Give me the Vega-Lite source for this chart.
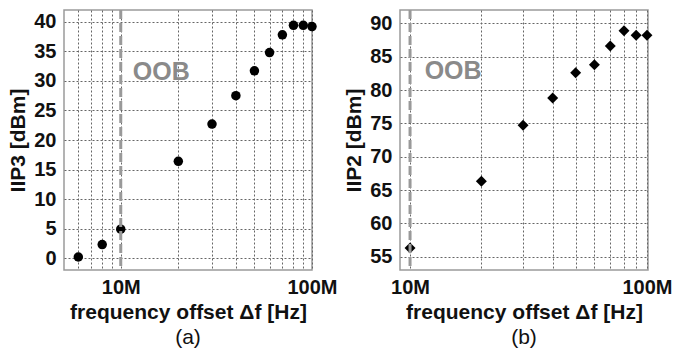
{
  "$schema": "https://vega.github.io/schema/vega-lite/v6.json",
  "padding": {"left": 7, "top": 7, "right": 0, "bottom": 0},
  "background": "white",
  "spacing": 5,
  "config": {
    "font": "Liberation Sans",
    "view": {"stroke": "#9a9a9a", "strokeWidth": 1.5},
    "axis": {
      "labelFont": "Liberation Sans", "labelFontSize": 20, "labelFontWeight": "bold", "labelColor": "#111",
      "titleFont": "Liberation Sans", "titleFontSize": 21, "titleFontWeight": "bold", "titleColor": "#111",
      "grid": true, "gridColor": "#666", "gridDash": [2, 2], "gridWidth": 1,
      "ticks": false, "domain": false, "labelOverlap": false
    },
    "title": {"font": "Liberation Sans", "fontSize": 21, "fontWeight": "normal", "color": "#111", "orient": "bottom", "offset": 5}
  },
  "datasets": {
    "iip3": [
      {"f": 6000000, "v": 0.2}, {"f": 8000000, "v": 2.3}, {"f": 10000000, "v": 4.9},
      {"f": 20000000, "v": 16.4}, {"f": 30000000, "v": 22.7}, {"f": 40000000, "v": 27.5},
      {"f": 50000000, "v": 31.7}, {"f": 60000000, "v": 34.8}, {"f": 70000000, "v": 37.8},
      {"f": 80000000, "v": 39.4}, {"f": 90000000, "v": 39.4}, {"f": 100000000, "v": 39.2}
    ],
    "iip2": [
      {"f": 10000000, "v": 56.3}, {"f": 20000000, "v": 66.3}, {"f": 30000000, "v": 74.7},
      {"f": 40000000, "v": 78.8}, {"f": 50000000, "v": 82.6}, {"f": 60000000, "v": 83.8},
      {"f": 70000000, "v": 86.6}, {"f": 80000000, "v": 88.9}, {"f": 90000000, "v": 88.2},
      {"f": 100000000, "v": 88.2}
    ]
  },
  "hconcat": [
    {
      "width": 248, "height": 260,
      "title": {"text": "(a)"},
      "layer": [
        {
          "data": {"name": "iip3"},
          "mark": {"type": "point", "shape": "circle", "filled": true, "color": "#000", "size": 90, "opacity": 1},
          "encoding": {
            "x": {"field": "f", "type": "quantitative",
              "scale": {"type": "log", "domain": [5050000, 100000000], "nice": false},
              "axis": {"title": "frequency offset Δf [Hz]", "values": [6000000, 7000000, 8000000, 9000000, 10000000, 20000000, 30000000, 40000000, 50000000, 60000000, 70000000, 80000000, 90000000, 100000000],
                "labelExpr": "datum.value == 10000000 ? '10M' : (datum.value == 100000000 ? '100M' : '')", "labelPadding": 7, "titlePadding": 4, "labelFlush": false, "labelOverlap": false}},
            "y": {"field": "v", "type": "quantitative",
              "scale": {"domain": [-2, 42], "nice": false, "zero": false},
              "axis": {"title": "IIP3 [dBm]", "values": [0, 5, 10, 15, 20, 25, 30, 35, 40], "tickCount": 9, "labelPadding": 8, "titlePadding": 5, "labelOverlap": false, "labelBound": false}}
          }
        },
        {
          "data": {"values": [{"f": 10000000}]},
          "mark": {"type": "rule", "color": "#999", "strokeWidth": 3, "strokeDash": [9, 4]},
          "encoding": {"x": {"field": "f", "type": "quantitative"}}
        },
        {
          "data": {"values": [{"f": 16300000, "v": 31.5, "t": "OOB"}]},
          "mark": {"type": "text", "color": "#8a8a8a", "fontSize": 25, "fontWeight": "bold", "font": "Liberation Sans", "align": "center", "baseline": "middle"},
          "encoding": {"x": {"field": "f", "type": "quantitative"}, "y": {"field": "v", "type": "quantitative", "axis": {"title": "IIP3 [dBm]", "values": [0, 5, 10, 15, 20, 25, 30, 35, 40], "tickCount": 9, "labelPadding": 8, "titlePadding": 5, "labelOverlap": false, "labelBound": false}}, "text": {"field": "t"}}
        }
      ]
    },
    {
      "width": 248, "height": 260,
      "title": {"text": "(b)"},
      "layer": [
        {
          "data": {"name": "iip2"},
          "mark": {"type": "point", "shape": "diamond", "filled": true, "color": "#000", "size": 120, "opacity": 1},
          "encoding": {
            "x": {"field": "f", "type": "quantitative",
              "scale": {"type": "log", "domain": [9070000, 101000000], "nice": false},
              "axis": {"title": "frequency offset Δf [Hz]", "values": [10000000, 20000000, 30000000, 40000000, 50000000, 60000000, 70000000, 80000000, 90000000, 100000000],
                "labelExpr": "datum.value == 10000000 ? '10M' : (datum.value == 100000000 ? '100M' : '')", "labelPadding": 7, "titlePadding": 4, "labelFlush": false, "labelOverlap": false}},
            "y": {"field": "v", "type": "quantitative",
              "scale": {"domain": [53, 92], "nice": false, "zero": false},
              "axis": {"title": "IIP2 [dBm]", "values": [55, 60, 65, 70, 75, 80, 85, 90], "tickCount": 8, "labelPadding": 8, "titlePadding": 5, "labelOverlap": false, "labelBound": false}}
          }
        },
        {
          "data": {"values": [{"f": 10000000}]},
          "mark": {"type": "rule", "color": "#999", "strokeWidth": 3, "strokeDash": [9, 4]},
          "encoding": {"x": {"field": "f", "type": "quantitative"}}
        },
        {
          "data": {"values": [{"f": 15200000, "v": 82.8, "t": "OOB"}]},
          "mark": {"type": "text", "color": "#8a8a8a", "fontSize": 25, "fontWeight": "bold", "font": "Liberation Sans", "align": "center", "baseline": "middle"},
          "encoding": {"x": {"field": "f", "type": "quantitative"}, "y": {"field": "v", "type": "quantitative", "axis": {"title": "IIP2 [dBm]", "values": [55, 60, 65, 70, 75, 80, 85, 90], "tickCount": 8, "labelPadding": 8, "titlePadding": 5, "labelOverlap": false, "labelBound": false}}, "text": {"field": "t"}}
        }
      ]
    }
  ]
}
